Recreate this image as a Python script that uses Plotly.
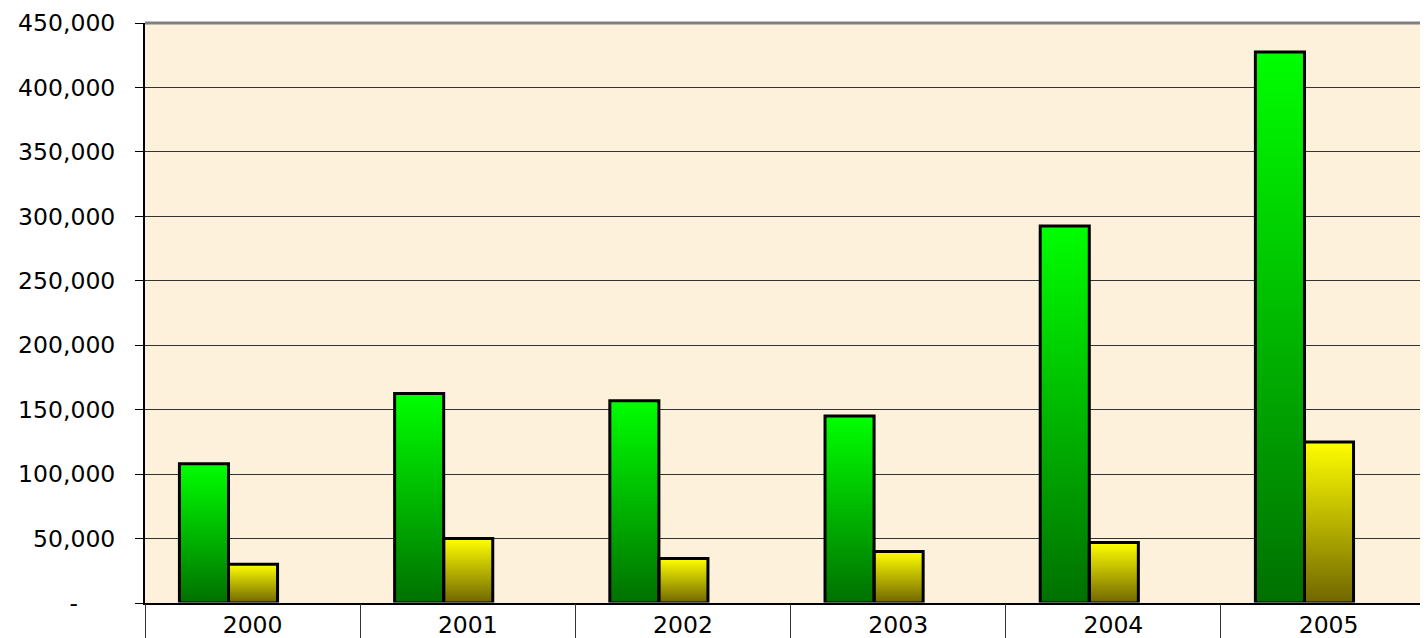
import plotly.graph_objects as go

years = ["2000", "2001", "2002", "2003", "2004", "2005"]
green_values = [108000, 162500, 157000, 145000, 292500, 427500]
yellow_values = [30000, 50000, 34500, 40000, 47000, 125000]
y_ticks = [0, 50000, 100000, 150000, 200000, 250000, 300000, 350000, 400000, 450000]
y_ticktext = ["-\u00a0\u00a0\u00a0\u00a0\u00a0"] + [f"{v:,}" for v in y_ticks[1:]]

N = 80
FONT = "DejaVu Sans"
FSIZE = 23.5


def lerp(c1, c2, t):
    return "rgb(%d,%d,%d)" % tuple(round(a + (b - a) * t) for a, b in zip(c1, c2))


def gradient_trace(values, top, bottom, offset, width):
    xs, ys, bases, colors = [], [], [], []
    for k in range(N):
        t = (k + 0.5) / N  # 0 bottom -> 1 top
        col = lerp(bottom, top, t)
        for cat, v in zip(years, values):
            b = v * k / N
            xs.append(cat)
            ys.append(v - b)
            bases.append(b)
            colors.append(col)
    return go.Bar(x=xs, y=ys, base=bases, offset=offset, width=width,
                  marker=dict(color=colors, line=dict(width=0)),
                  hoverinfo="skip", showlegend=False)


def outline_trace(values, offset, width):
    return go.Bar(x=years, y=values, offset=offset, width=width,
                  marker=dict(color="rgba(0,0,0,0)", line=dict(color="black", width=3)),
                  showlegend=False)


bw = 0.228
fig = go.Figure()
fig.add_trace(gradient_trace(green_values, (0, 255, 0), (0, 112, 0), -0.34, bw))
fig.add_trace(gradient_trace(yellow_values, (255, 255, 0), (112, 102, 0), -0.34 + bw, bw))
fig.add_trace(outline_trace(green_values, -0.34, bw))
fig.add_trace(outline_trace(yellow_values, -0.34 + bw, bw))
# invisible trace to anchor the boundary-tick axis
fig.add_trace(go.Bar(x=years, y=[0] * len(years), xaxis="x2", yaxis="y",
                     marker=dict(color="rgba(0,0,0,0)"), hoverinfo="skip", showlegend=False))

xrange = [-0.5, 5.462]
fig.update_layout(
    width=1420, height=630,
    margin=dict(l=137, r=0, t=15, b=35),
    barmode="overlay",
    paper_bgcolor="white",
    plot_bgcolor="#FDF1DC",
    font=dict(family=FONT, size=FSIZE, color="black"),
    showlegend=False,
    xaxis=dict(
        type="category",
        range=xrange,
        ticks="",
        showline=True, linecolor="black", linewidth=2,
        showgrid=False,
        automargin=False,
        tickfont=dict(family=FONT, size=FSIZE),
        ticklabelstandoff=0,
    ),
    xaxis2=dict(
        type="category",
        overlaying="x",
        anchor="y",
        side="bottom",
        range=xrange,
        tickson="boundaries",
        ticks="outside", ticklen=36, tickcolor="#333333", tickwidth=1,
        showticklabels=False,
        showline=False, showgrid=False,
        automargin=False,
        matches="x",
    ),
    yaxis=dict(
        range=[0, 450000],
        tickvals=y_ticks, ticktext=y_ticktext,
        ticks="outside", ticklen=8, tickcolor="black", tickwidth=1,
        showline=True, linecolor="black", linewidth=2,
        showgrid=True, gridcolor="#333333", gridwidth=1,
        zeroline=False,
        automargin=False,
        tickfont=dict(family=FONT, size=FSIZE),
        ticklabelstandoff=15,
    ),
    shapes=[dict(type="line", xref="paper", yref="paper", x0=0, x1=1, y0=1, y1=1,
                 line=dict(color="#808080", width=3), layer="above")],
)

fig.write_html("out.html")
